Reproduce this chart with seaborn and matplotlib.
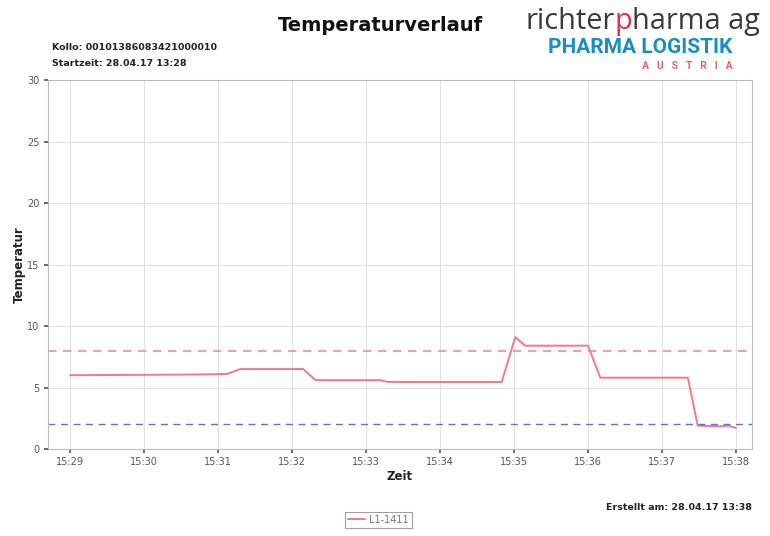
import pandas as pd
import numpy as np
import matplotlib
matplotlib.use("Agg")
import matplotlib.pyplot as plt
import matplotlib.dates as mdates
import seaborn as sns

# ---------------------------------------------------------
# Data
# ---------------------------------------------------------
times = ["15:29:00", "15:30:35", "15:31:07", "15:31:18", "15:32:09", "15:32:19",
         "15:33:11", "15:33:18", "15:34:50", "15:35:01", "15:35:09", "15:36:00",
         "15:36:10", "15:37:21", "15:37:29", "15:37:47", "15:37:54", "15:38:00"]
temps = [6.0, 6.05, 6.1, 6.5, 6.5, 5.6,
         5.6, 5.45, 5.45, 9.1, 8.4, 8.4,
         5.8, 5.8, 1.9, 1.85, 1.9, 1.7]
upper_limit = 8.0
lower_limit = 2.0
series_name = "L1-1411"
y_ticks = [0, 5, 10, 15, 20, 25, 30]

df = pd.DataFrame({"Zeit": pd.to_datetime(["2017-04-28 " + t for t in times]),
                   "Temperatur": temps})

# ---------------------------------------------------------
# Plot
# ---------------------------------------------------------
sns.set_theme(style="white")
plt.rcParams["font.family"] = ["DejaVu Sans"]

fig = plt.figure(figsize=(7.7, 5.36), dpi=100)
ax = fig.add_axes([0.0623, 0.1623, 0.9143, 0.6884])

sns.lineplot(data=df, x="Zeit", y="Temperatur", color="#f07890", linewidth=1.4,
             ax=ax, label=series_name)
ax.axhline(upper_limit, color="#f58a9a", linestyle=(0, (5, 4)), linewidth=1.2)
ax.axhline(lower_limit, color="#6a6ad8", linestyle=(0, (5, 4)), linewidth=1.0)

x0 = pd.Timestamp("2017-04-28 15:29:00")
ax.set_xlim(x0 - pd.Timedelta(seconds=18), x0 + pd.Timedelta(seconds=553))
ax.set_ylim(0, 30)
ax.set_yticks(y_ticks)
ax.xaxis.set_major_locator(mdates.MinuteLocator())
ax.xaxis.set_major_formatter(mdates.DateFormatter("%H:%M"))

ax.grid(True, color="#e2e2e2", linewidth=0.8)
for s in ax.spines.values():
    s.set_color("#bbbbbb")
    s.set_linewidth(0.8)
ax.tick_params(axis="both", labelsize=7, colors="#555555", length=3,
               direction="out", bottom=True, left=True, pad=3)

ax.set_xlabel("Zeit", fontsize=8.5, fontweight="bold", color="#222222", labelpad=2)
ax.set_ylabel("Temperatur", fontsize=8.5, fontweight="bold", color="#222222", labelpad=1)

leg = ax.legend(loc="upper center", bbox_to_anchor=(0.469, -0.157), fontsize=7,
                frameon=True, fancybox=False, handlelength=1.8, handletextpad=0.4,
                borderpad=0.3, labelcolor="#777777")
leg.get_frame().set_edgecolor("#888888")
leg.get_frame().set_linewidth(0.8)

# Header texts
fig.text(0.494, 0.952, "Temperaturverlauf", fontsize=14, fontweight="bold",
         ha="center", va="center", color="#111111")
fig.text(0.068, 0.912, "Kollo: 00101386083421000010", fontsize=6.8,
         fontweight="bold", ha="left", va="center", color="#222222")
fig.text(0.068, 0.882, "Startzeit: 28.04.17 13:28", fontsize=6.8,
         fontweight="bold", ha="left", va="center", color="#222222")
fig.text(0.977, 0.054, "Erstellt am: 28.04.17 13:38", fontsize=6.8,
         fontweight="bold", ha="right", va="center", color="#222222")

# Logo
t1 = fig.text(0.682, 0.960, "richter", fontsize=20.8, color="#3a3a3a",
              family="Open Sans", ha="left", va="center")
t2 = ax.annotate("p", xy=(1, 0), xycoords=t1, fontsize=20.8, color="#e0304a",
                 family="Open Sans", ha="left", va="bottom",
                 annotation_clip=False)
ax.annotate("harma ag", xy=(1, 0), xycoords=t2, fontsize=20.8, color="#3a3a3a",
            family="Open Sans", ha="left", va="bottom",
            annotation_clip=False)
fig.text(0.831, 0.912, "PHARMA LOGISTIK", fontsize=15, fontweight="bold",
         color="#1a8ec4", family="Roboto", ha="center", va="center")
fig.text(0.893, 0.876, "A   U   S   T   R   I   A", fontsize=7.5, fontweight="bold",
         color="#e8606e", family="Roboto", ha="center", va="center")

fig.savefig("out.png", dpi=100)
plt.close(fig)
